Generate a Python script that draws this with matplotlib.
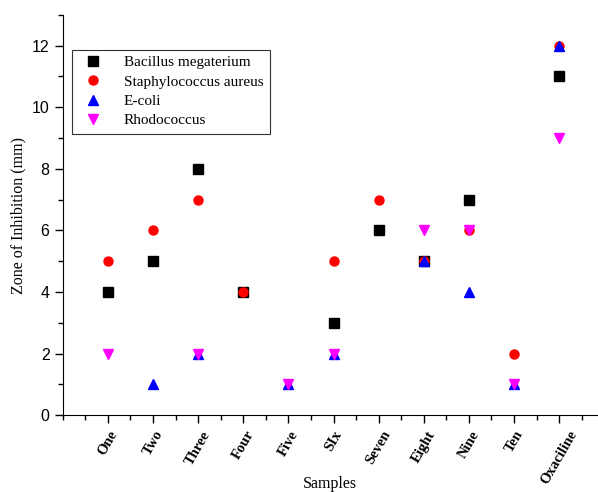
import numpy as np
import matplotlib
matplotlib.use('Agg')
import matplotlib.pyplot as plt
from matplotlib.ticker import MultipleLocator

samples = ['One', 'Two', 'Three', 'Four', 'Five', 'SIx', 'Seven', 'Eight',
           'Nine', 'Ten', 'Oxaciline']
nan = np.nan
bacillus = [4, 5, 8, 4, nan, 3, 6, 5, 7, nan, 11]
staph = [5, 6, 7, 4, nan, 5, 7, 5, 6, 2, 12]
ecoli = [nan, 1, 2, nan, 1, 2, nan, 5, 4, 1, 12]
rhodo = [2, nan, 2, nan, 1, 2, nan, 6, 6, 1, 9]

series = [
    ('Bacillus megaterium', bacillus, 's', 'black'),
    ('Staphylococcus aureus', staph, 'o', 'red'),
    ('E-coli', ecoli, '^', 'blue'),
    ('Rhodococcus', rhodo, 'v', 'magenta'),
]

fig = plt.figure(figsize=(5.98, 4.92), dpi=100)
ax = fig.add_axes([0.105, 0.156, 0.895, 0.814])

x = np.arange(1, len(samples) + 1)
for name, vals, mk, col in series:
    ax.plot(x, vals, linestyle='none', marker=mk, color=col,
            markersize=6.5, label=name)

ax.set_xlim(0, 11.86)
ax.set_ylim(0, 13)
ax.spines['top'].set_visible(False)
ax.spines['right'].set_visible(False)

ax.set_xticks(x)
ax.set_xticklabels(samples, rotation=60, fontsize=10.5, fontweight='bold',
                   family='Liberation Serif')
ax.xaxis.set_minor_locator(MultipleLocator(0.5))
ax.yaxis.set_major_locator(MultipleLocator(2))
ax.yaxis.set_minor_locator(MultipleLocator(1))
ax.tick_params(which='major', direction='out', length=6, width=1)
ax.tick_params(which='minor', direction='out', length=3.5, width=1)
for lab in ax.get_yticklabels():
    lab.set_family('Liberation Sans')
    lab.set_fontsize(11.5)

ax.set_xlabel('Samples', family='Liberation Serif', fontsize=11.5)
ax.xaxis.set_label_coords(0.5, -0.152)
ax.set_ylabel('Zone of Inhibition (mm)', family='Liberation Serif', fontsize=11.5)

leg = ax.legend(loc='upper left', bbox_to_anchor=(0.017, 0.913),
                prop={'family': 'Liberation Serif', 'size': 11},
                frameon=True, fancybox=False, edgecolor='black',
                handletextpad=1.0, borderpad=0.4, labelspacing=0.37,
                borderaxespad=0)
leg.get_frame().set_linewidth(0.8)

fig.savefig('out.png', dpi=100)
